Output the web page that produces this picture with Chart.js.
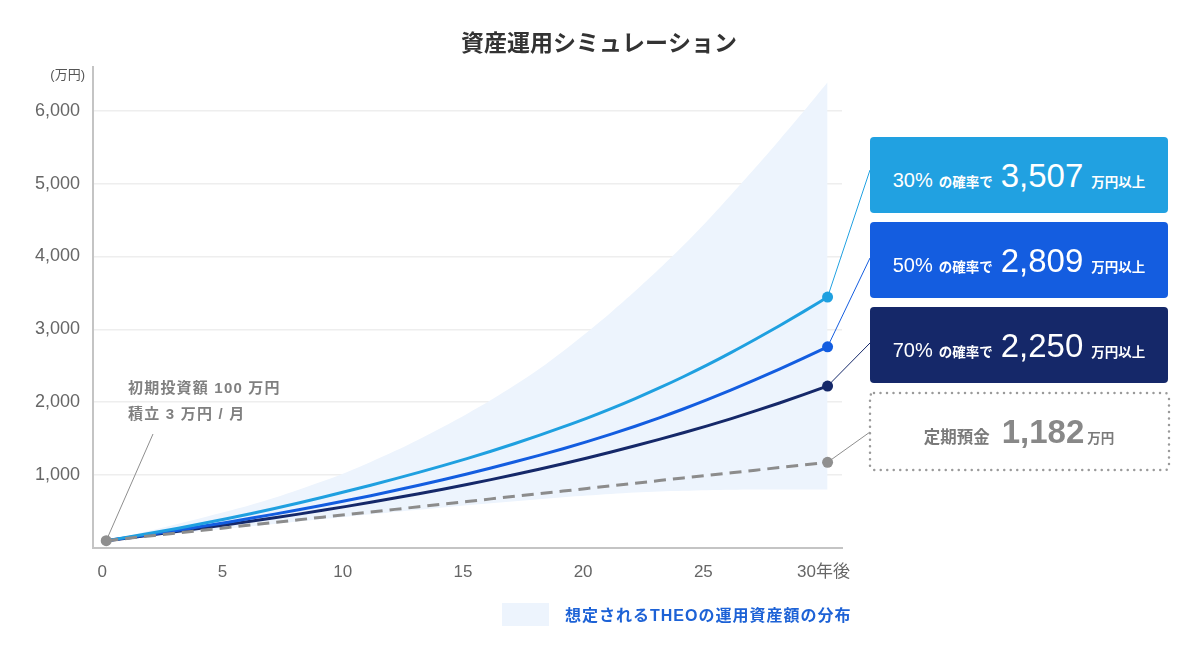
<!DOCTYPE html>
<html lang="ja">
<head>
<meta charset="utf-8">
<script src="https://cdn.jsdelivr.net/npm/chart.js@4.4.1/dist/chart.umd.min.js"></script>
<style>
  body { margin: 0; background: #fff; }
  #wrap { position: relative; width: 1198px; height: 651px; font-family: "Liberation Sans", "Noto Sans CJK JP", sans-serif; }
  #chart { position: absolute; left: 0; top: 0; }
  .note { position: absolute; left: 128px; top: 375px; font-size: 15px; line-height: 26px; color: #808080; letter-spacing: 1.2px; font-weight: 600; }
  .box { position: absolute; left: 870px; width: 298px; height: 76px; border-radius: 4px; color: #fff;
         display: flex; align-items: baseline; justify-content: center; box-sizing: border-box; padding-top: 20px; }
  .box .pct { font-size: 20px; margin-right: 6px; }
  .box .small { font-size: 13.5px; font-weight: 700; }
  .box .big { font-size: 33px; margin: 0 8px; }
  .box.dep { color: #7a7a7a; }
  .box.dep .lbl { font-size: 16.5px; font-weight: 700; }
  .box.dep .big { font-size: 33px; color: #888; margin: 0 3px 0 12px; font-weight: 600; }
  .legend { position: absolute; left: 502px; top: 602px; display: flex; align-items: center; }
  .legend .sw { width: 47px; height: 23px; background: #edf4fd; margin-right: 16px; }
  .legend span { font-size: 16px; font-weight: 700; color: #1d62d6; letter-spacing: 1px; }
</style>
</head>
<body>
<div id="wrap">
  <canvas id="chart" width="1198" height="651"></canvas>
  <div class="note">初期投資額 100 万円<br>積立 3 万円 / 月</div>
  <div class="box" style="top:137px;background:#21a1e1"><span class="pct">30%</span><span class="small">の確率で</span><span class="big">3,507</span><span class="small">万円以上</span></div>
  <div class="box" style="top:222px;background:#145de0"><span class="pct">50%</span><span class="small">の確率で</span><span class="big">2,809</span><span class="small">万円以上</span></div>
  <div class="box" style="top:307px;background:#152869"><span class="pct">70%</span><span class="small">の確率で</span><span class="big">2,250</span><span class="small">万円以上</span></div>
  <svg style="position:absolute;left:868px;top:391px" width="304" height="82">
    <rect x="2" y="2" width="299" height="77" rx="4" fill="none" stroke="#9a9a9a" stroke-width="2.5" stroke-linecap="round" stroke-dasharray="0 6.5"></rect>
  </svg>
  <div class="box dep" style="top:393px;height:77px"><span class="lbl">定期預金</span><span class="big">1,182</span><span class="small">万円</span></div>
  <div class="legend"><div class="sw"></div><span>想定されるTHEOの運用資産額の分布</span></div>
</div>
<script>
// years after start
const years = [0, 1, 2, 3, 4, 5, 6, 7, 8, 9, 10, 11, 12, 13, 14, 15, 16, 17, 18, 19, 20, 21, 22, 23, 24, 25, 26, 27, 28, 29, 30];

// values in 万円
const rangeUpper = [100, 175, 252, 332, 415, 500, 590, 690, 800, 915, 1040, 1180, 1330, 1490, 1660, 1840, 2030, 2235, 2455, 2700, 2960, 3235, 3525, 3830, 4150, 4490, 4850, 5220, 5600, 5990, 6392];
const rangeLower = [100, 133, 166, 199, 232, 265, 298, 331, 364, 397, 430, 462, 494, 525, 556, 586, 615, 643, 670, 696, 720, 742, 760, 775, 786, 794, 799, 802, 803, 803, 802];
const p30 = [100, 155, 212, 272, 335, 401, 470, 542, 617, 696, 779, 862, 948, 1037, 1130, 1227, 1328, 1434, 1545, 1661, 1782, 1912, 2050, 2196, 2350, 2512, 2684, 2864, 3050, 3243, 3443];
const p50 = [100, 147, 195, 245, 297, 351, 407, 465, 525, 587, 651, 718, 788, 861, 937, 1016, 1098, 1183, 1271, 1362, 1459, 1562, 1671, 1786, 1907, 2035, 2169, 2309, 2455, 2605, 2761];
const p70 = [100, 142, 185, 229, 274, 320, 367, 415, 465, 517, 571, 627, 685, 745, 807, 871, 938, 1008, 1081, 1157, 1236, 1318, 1403, 1491, 1582, 1676, 1776, 1881, 1990, 2104, 2222];
const deposit = [100, 136, 172, 208, 243, 279, 315, 351, 387, 423, 459, 494, 530, 566, 602, 638, 674, 710, 746, 781, 817, 853, 889, 925, 961, 997, 1033, 1068, 1104, 1140, 1176];

const xTicks = [0, 5, 10, 15, 20, 25, 30];
const xTickLabels = ["0", "5", "10", "15", "20", "25", "30年後"];
const yTicks = [1000, 2000, 3000, 4000, 5000, 6000];

const FONT = '"Liberation Sans", "Noto Sans CJK JP", sans-serif';

const pts = function (values) {
  return values.map((v, i) => ({ x: years[i], y: v }));
};
const endDot = function (values, r) {
  return values.map((v, i) => (i === values.length - 1 ? r : 0));
};

const curve = function (values, color) {
  return {
    data: pts(values),
    xAxisID: "x",
    yAxisID: "y",
    borderColor: color,
    backgroundColor: color,
    borderWidth: 3,
    pointRadius: endDot(values, 5.5),
    pointBorderWidth: 0,
    cubicInterpolationMode: "monotone",
    fill: false,
    order: 2,
  };
};

// connector end points on the boxes (canvas px)
const connectors = [
  { ds: 2, to: [870, 170], color: "#21a1e1" },
  { ds: 3, to: [870, 258], color: "#145de0" },
  { ds: 4, to: [870, 343], color: "#152869" },
  { ds: 5, to: [870, 432], color: "#8e8e8e" },
];

const extras = {
  id: "extras",
  beforeDatasetsDraw(chart) {
    const ctx = chart.ctx;
    ctx.save();
    ctx.lineWidth = 1;
    connectors.forEach((c) => {
      const meta = chart.getDatasetMeta(c.ds);
      const p = meta.data[meta.data.length - 1];
      ctx.strokeStyle = c.color;
      ctx.beginPath();
      ctx.moveTo(p.x, p.y);
      ctx.lineTo(c.to[0], c.to[1]);
      ctx.stroke();
    });
    const start = chart.getDatasetMeta(5).data[0];
    ctx.strokeStyle = "#8e8e8e";
    ctx.beginPath();
    ctx.moveTo(start.x, start.y);
    ctx.lineTo(153, 434);
    ctx.stroke();
    ctx.restore();
  },
  afterDraw(chart) {
    const ctx = chart.ctx;
    ctx.save();
    ctx.font = "13px " + FONT;
    ctx.fillStyle = "#555";
    ctx.textAlign = "right";
    ctx.textBaseline = "middle";
    ctx.fillText("(万円)", 85, 75);
    ctx.restore();
  },
};

const init = function () {
  const canvas = document.getElementById("chart");
  new Chart(canvas, {
    type: "line",
    data: {
      datasets: [
        {
          data: pts(rangeUpper),
          xAxisID: "x",
          yAxisID: "y",
          borderWidth: 0,
          pointRadius: 0,
          backgroundColor: "#edf4fd",
          fill: "+1",
          tension: 0.3,
          order: 5,
        },
        {
          data: pts(rangeLower),
          xAxisID: "x",
          yAxisID: "y",
          borderWidth: 0,
          pointRadius: 0,
          backgroundColor: "#edf4fd",
          fill: false,
          tension: 0.3,
          order: 5,
        },
        curve(p30, "#1fa0e0"),
        curve(p50, "#135de0"),
        curve(p70, "#152869"),
        {
          data: pts(deposit),
          xAxisID: "x",
          yAxisID: "y",
          borderColor: "#8c8c8c",
          backgroundColor: "#8f8f8f",
          borderWidth: 3,
          borderDash: [12, 7],
          pointRadius: deposit.map((v, i) => (i === 0 || i === deposit.length - 1 ? 5.5 : 0)),
          pointBorderWidth: 0,
          fill: false,
          order: 1,
        },
      ],
    },
    options: {
      responsive: false,
      animation: false,
      events: [],
      layout: { padding: 0 },
      plugins: {
        legend: { display: false },
        tooltip: { enabled: false },
        title: {
          display: true,
          text: "資産運用シミュレーション",
          color: "#333",
          font: { family: FONT, size: 23, weight: "bold", lineHeight: 1.2 },
          padding: { top: 31, bottom: 8.4 },
        },
      },
      scales: {
        x: {
          type: "linear",
          min: -0.55,
          max: 30.6,
          afterBuildTicks: (s) => {
            s.ticks = xTicks.map((v) => ({ value: v }));
          },
          afterFit: (s) => {
            s.height = 103;
          },
          grid: { display: false, drawTicks: false },
          border: { display: true, color: "#c4c4c4", width: 2 },
          ticks: {
            padding: 14,
            maxRotation: 0,
            labelOffset: -4,
            color: "#666",
            font: { family: FONT, size: 17 },
            callback: (v) => xTickLabels[xTicks.indexOf(v)],
          },
        },
        y: {
          position: "left",
          min: 0,
          max: 6600,
          afterBuildTicks: (s) => {
            s.ticks = yTicks.map((v) => ({ value: v }));
          },
          afterFit: (s) => {
            s.width = 93;
          },
          grid: { color: "#eeeeee", lineWidth: 1.5, drawTicks: false },
          border: { display: true, color: "#c4c4c4", width: 2 },
          ticks: {
            padding: 13,
            color: "#666",
            font: { family: FONT, size: 18 },
            callback: (v) => v.toLocaleString("en-US"),
          },
        },
        // empty right-hand axis that keeps room for the value boxes
        side: {
          axis: "y",
          position: "right",
          min: 0,
          max: 6600,
          afterFit: (s) => {
            s.width = 356;
          },
          grid: { display: false, drawTicks: false },
          border: { display: false },
          ticks: { display: false },
        },
      },
    },
    plugins: [extras],
  });
};

if (document.readyState !== "loading") {
  init();
} else {
  document.addEventListener("DOMContentLoaded", init);
}
</script>
</body>
</html>
